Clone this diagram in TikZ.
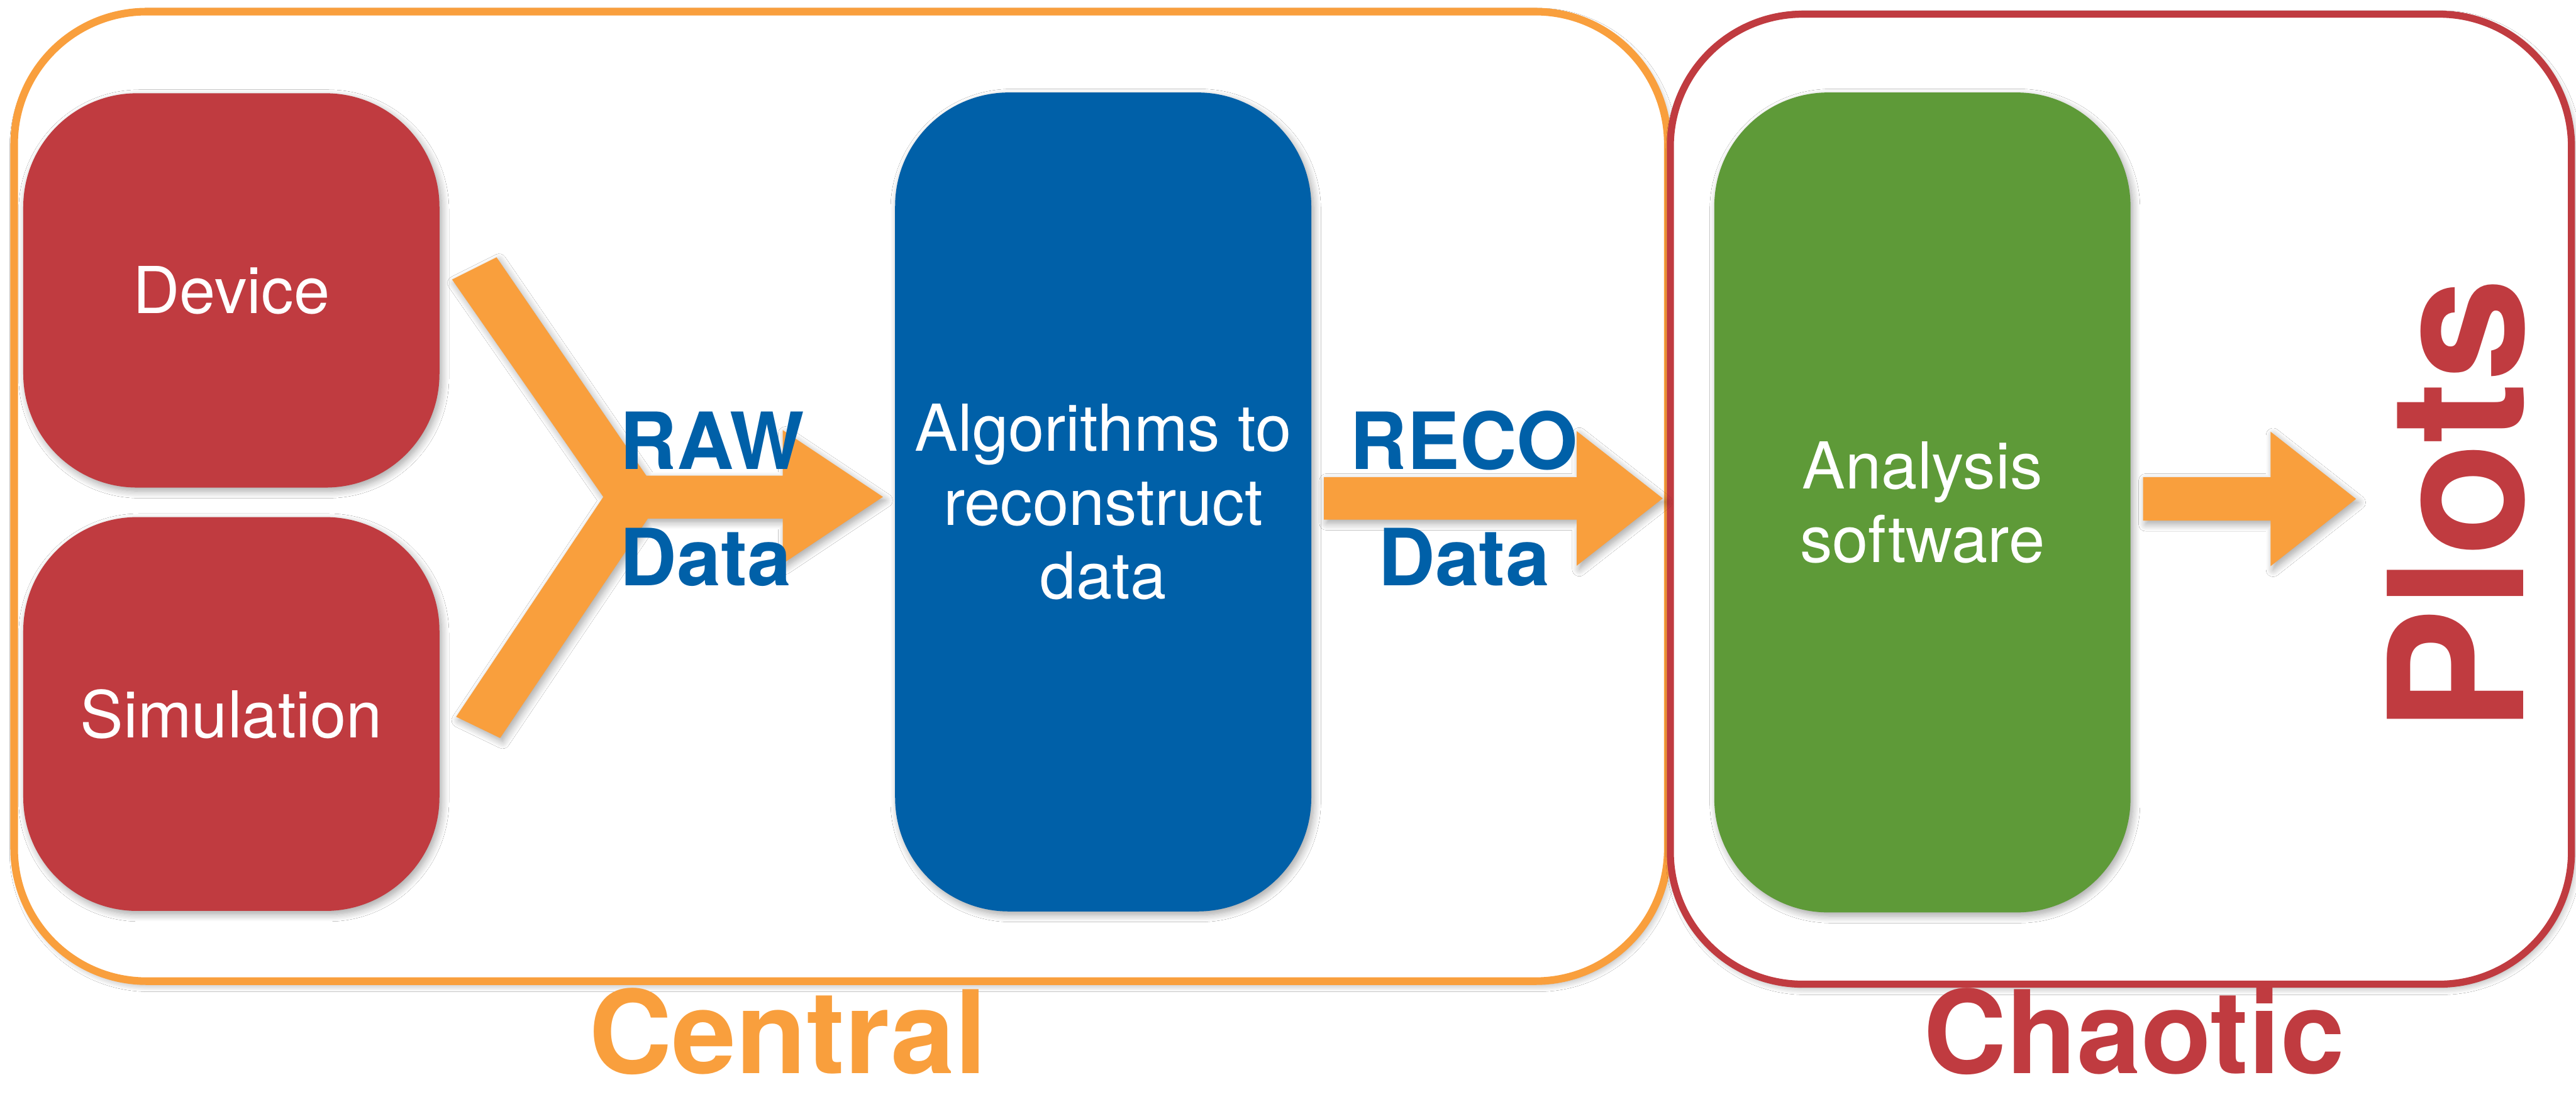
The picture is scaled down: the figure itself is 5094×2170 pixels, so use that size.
\documentclass[tikz,border=0pt]{standalone}
\usepackage{fontspec}
\setmainfont{TeX Gyre Heros}
\usetikzlibrary{shadows.blur}
\definecolor{corange}{HTML}{F99F3D}
\definecolor{cred}{HTML}{C03B40}
\definecolor{cblue}{HTML}{0060A8}
\definecolor{cgreen}{HTML}{5E9A38}
\begin{document}
\begin{tikzpicture}[x=1pt,y=-1pt,
  sh/.style={blur shadow={shadow xshift=5pt, shadow yshift=-7pt, shadow blur radius=14pt, shadow blur steps=10, shadow opacity=35}},
  outerbox/.style={rectangle, rounded corners=262pt, line width=15pt, fill=white, inner sep=0pt, sh},
  block/.style={rectangle, rounded corners=225pt, inner sep=0pt, minimum width=823pt,
     text=white, align=center, font=\fontsize{128}{146}\selectfont, sh},
  bluelab/.style={inner sep=0pt, text=cblue, font=\fontsize{156}{156}\selectfont\bfseries},
  biglab/.style={inner sep=0pt, font=\fontsize{228}{228}\selectfont\bfseries},
  blockarrow/.style={fill=corange, sh}]
\useasboundingbox (0,0) rectangle (5094,2170);
\fill[white] (0,0) rectangle (5094,2170);

% outer groups
\node[outerbox, draw=corange, minimum width=3270pt, minimum height=1918pt] (central) at (1663,982) {};
\node[outerbox, draw=cred, line width=14pt, minimum width=1782pt, minimum height=1919pt] (chaotic) at (4194,987.5) {};

% blocks
\node[block, fill=cred, minimum height=780pt] (dev) at (457.5,574.5) {Device};
\node[block, fill=cred, minimum height=779pt] (sim) at (457.5,1412.5) {Simulation};
\node[block, fill=cblue, minimum height=1620pt] (algo) at (2181.5,993) {Algorithms to\\reconstruct\\data};
\node[block, fill=cgreen, minimum height=1622pt] (ana) at (3801.5,994) {Analysis\\software};

% arrows
\fill[blockarrow] (894,553) -- (982,509) -- (1278,941) -- (1548,941) -- (1548,851)
  -- (1746,983) -- (1548,1115) -- (1548,1026) -- (1281,1026) -- (989,1460)
  -- (902,1418) -- (1193,983) -- cycle;
\fill[blockarrow] (2618,944) -- (3118,944) -- (3118,853) -- (3288,986)
  -- (3118,1119) -- (3118,1028) -- (2618,1028) -- cycle;
\fill[blockarrow] (4238,944) -- (4490,944) -- (4490,854) -- (4659,987)
  -- (4490,1120) -- (4490,1030) -- (4238,1030) -- cycle;

% labels
\node[bluelab, anchor=base west] (raw) at (1226,928) {RAW};
\node[bluelab, anchor=base west] (rawdata) at (1226,1158) {Data};
\node[bluelab, anchor=base] (reco) at (2895,928) {RECO};
\node[bluelab, anchor=base] (recodata) at (2895,1158) {Data};

\node[inner sep=0pt, text=cred, rotate=90, anchor=base west,
  font=\fontsize{370}{370}\selectfont\bfseries] (plots) at (4990,1451) {Plots};

\node[biglab, text=corange, anchor=base] (centrallab) at (1558,2124) {Central};
\node[biglab, text=cred, anchor=base] (chaoticlab) at (4220,2124) {Chaotic};
\end{tikzpicture}
\end{document}
